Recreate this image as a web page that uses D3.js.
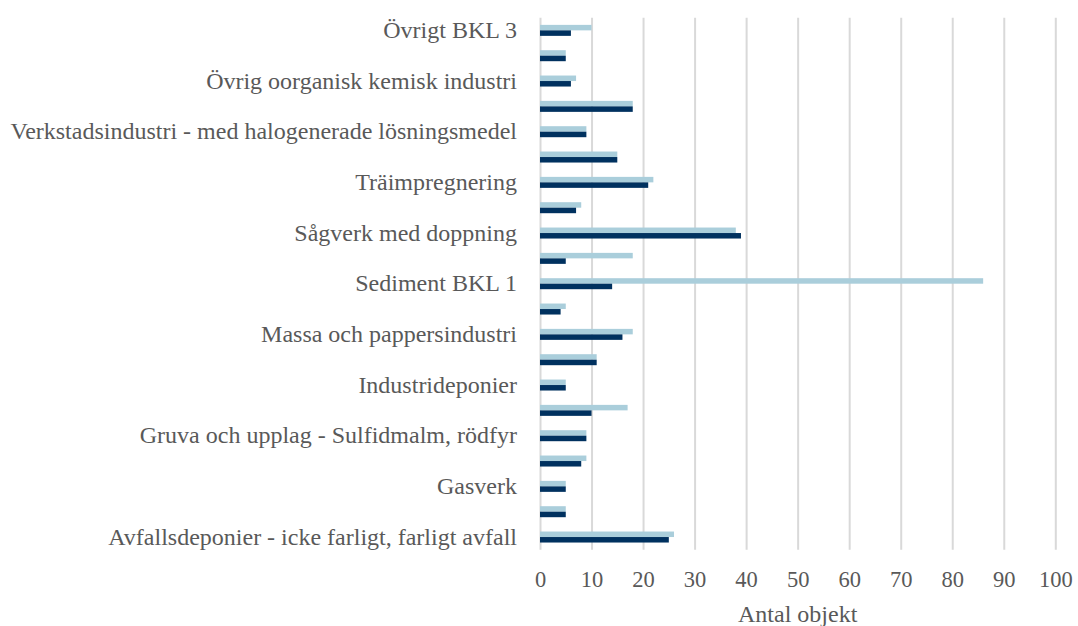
<!DOCTYPE html>
<html>
<head>
<meta charset="utf-8">
<script src="https://cdn.jsdelivr.net/npm/d3@7"></script>
<style>
  html, body { margin: 0; padding: 0; background: #ffffff; }
  svg { display: block; }
  svg text { font-family: "Liberation Serif", "DejaVu Serif", serif; }
</style>
</head>
<body>
<svg id="chart" width="1078" height="626"></svg>
<script>
// Categories, top to bottom as displayed
const categories = [
  "Övrigt BKL 3",
  "Övrig organisk kemisk industri",
  "Övrig oorganisk kemisk industri",
  "Verkstadsindustri - utan halogenerade lösningsmedel",
  "Verkstadsindustri - med halogenerade lösningsmedel",
  "Tvätterier",
  "Träimpregnering",
  "Sågverk utan doppning",
  "Sågverk med doppning",
  "Sediment BKL 2",
  "Sediment BKL 1",
  "Plantskolor",
  "Massa och pappersindustri",
  "Kemtvätt",
  "Industrideponier",
  "Gruva och upplag - övrigt",
  "Gruva och upplag - Sulfidmalm, rödfyr",
  "Glasindustri",
  "Gasverk",
  "Förbränningsanläggningar",
  "Avfallsdeponier - icke farligt, farligt avfall"
];
const seriesNames = ["Serie 1", "Serie 2"];
const seriesLight = [10, 5, 7, 18, 9, 15, 22, 8, 38, 18, 86, 5, 18, 11, 5, 17, 9, 9, 5, 5, 26];
const seriesDark  = [6, 5, 6, 18, 9, 15, 21, 7, 39, 5, 14, 4, 16, 11, 5, 10, 9, 8, 5, 5, 25];
const xTicks = [0, 10, 20, 30, 40, 50, 60, 70, 80, 90, 100];
const xTitle = "Antal objekt";

const colors = { "Serie 1": "#AACEDB", "Serie 2": "#00315F" };
const textColor = "#595959";
const gridColor = "#D9D9D9";
const fontFamily = "Liberation Serif, DejaVu Serif, serif";

const plotLeft = 540, plotRight = 1055.3, plotTop = 17.7, plotBottom = 549.7;

const svg = d3.select("#chart");

const x = d3.scaleLinear().domain([0, 100]).range([plotLeft, plotRight]);
const y = d3.scaleBand().domain(categories).range([plotTop, plotBottom])
  .paddingInner(0.566).paddingOuter(0.283);
const ySub = d3.scaleBand().domain(seriesNames).range([0, y.bandwidth()]);

// Gridlines
const grid = svg.append("g")
  .attr("transform", `translate(0,${plotBottom})`)
  .call(d3.axisBottom(x).tickValues(xTicks).tickSize(-(plotBottom - plotTop)).tickFormat(""));
grid.select(".domain").remove();
grid.selectAll("line").attr("stroke", gridColor).attr("stroke-width", 2);

// Bars
const rows = categories.map((c, i) => ({ cat: c, values: [
  { s: "Serie 1", v: seriesLight[i] },
  { s: "Serie 2", v: seriesDark[i] }
]}));

const g = svg.append("g");
g.selectAll("g.row").data(rows).join("g")
  .attr("class", "row")
  .attr("transform", d => `translate(0,${y(d.cat)})`)
  .selectAll("rect").data(d => d.values).join("rect")
  .attr("x", x(0))
  .attr("y", d => ySub(d.s))
  .attr("width", d => x(d.v) - x(0))
  .attr("height", ySub.bandwidth())
  .attr("fill", d => colors[d.s]);

// Y axis (labels every other category)
const yAxis = svg.append("g")
  .attr("transform", `translate(${plotLeft},0)`)
  .call(d3.axisLeft(y).tickSize(0).tickPadding(23)
    .tickFormat((d, i) => (i % 2 === 0 ? d : "")));
yAxis.attr("font-family", fontFamily).attr("font-size", 24);
yAxis.select(".domain").remove();
yAxis.selectAll("text").attr("fill", textColor);

// X axis tick labels
const xAxis = svg.append("g")
  .attr("transform", `translate(0,${plotBottom})`)
  .call(d3.axisBottom(x).tickValues(xTicks).tickSize(0).tickPadding(21));
xAxis.attr("font-family", fontFamily).attr("font-size", 22.5);
xAxis.select(".domain").remove();
xAxis.selectAll("text").attr("fill", textColor);

// X axis title
svg.append("text")
  .attr("x", (plotLeft + plotRight) / 2)
  .attr("y", 622)
  .attr("text-anchor", "middle")
  .attr("fill", textColor)
  .attr("font-family", fontFamily)
  .attr("font-size", 24)
  .text(xTitle);
</script>
</body>
</html>
